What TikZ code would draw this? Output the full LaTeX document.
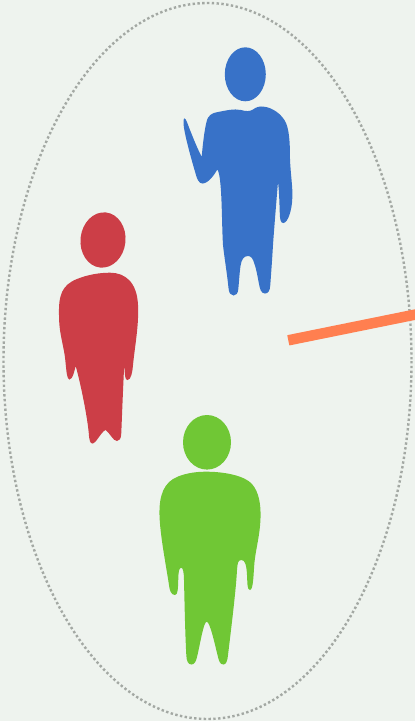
\documentclass[tikz,border=0pt]{standalone}
\usepackage{xcolor}
\usepackage{tikz}

\definecolor{paper}{HTML}{EEF3EE}
\definecolor{ringgray}{HTML}{A3A8A3}
\definecolor{personblue}{HTML}{3872C8}
\definecolor{personred}{HTML}{CC3E47}
\definecolor{persongreen}{HTML}{70C735}
\definecolor{barcoral}{HTML}{FF7F50}

\begin{document}
\begin{tikzpicture}[
        x=1pt,
        y=-1pt,
        ring/.style={
            draw=ringgray,
            line width=2.4pt,
            dash pattern=on 2.4pt off 2.4pt
        },
        bar/.style={
            draw=barcoral,
            line width=10.5pt
        },
        blueperson/.style={
            fill=personblue
        },
        redperson/.style={
            fill=personred
        },
        greenperson/.style={
            fill=persongreen
        }
    ]

    \useasboundingbox (0,0) rectangle (415,721);
    \fill[paper] (0,0) rectangle (415,721);

    \draw[ring] (207.5,361) ellipse [x radius=204, y radius=358];

    % blue person
    \fill[blueperson] (245.3,74.3) ellipse [x radius=20.5, y radius=27];
    \fill[blueperson] (201.7,156.7)
        .. controls (203,142) and (204.5,130) .. (206.5,122)
        .. controls (208,115) and (212,113) .. (218,112)
        .. controls (226,110.5) and (234,108.5) .. (241,110)
        .. controls (246,111.5) and (250,111.5) .. (253,109.5)
        .. controls (256,107) and (260,106) .. (264,106.7)
        .. controls (272,107.5) and (282,114) .. (286,123)
        .. controls (290,132) and (290,150) .. (290,160)
        .. controls (291,178) and (293,190) .. (292.3,198)
        .. controls (292,210) and (288,222.5) .. (283.5,223)
        .. controls (280.5,223.3) and (280,219) .. (279.8,214)
        .. controls (279.5,205) and (279.2,192) .. (278,181.7)
        .. controls (276.5,200) and (274,230) .. (273,245)
        .. controls (272,262) and (271,275) .. (270.3,285)
        .. controls (270,291) and (268,293.5) .. (265,293.5)
        .. controls (261,293.5) and (260,289) .. (259,284)
        .. controls (257.5,276) and (256,268) .. (254.5,264)
        .. controls (253,258.5) and (251,256) .. (248,256)
        .. controls (244,256) and (241.5,259) .. (240.5,266)
        .. controls (239.5,273) and (239,282) .. (238.3,289)
        .. controls (238,293.5) and (236,295.5) .. (233.5,295.5)
        .. controls (230.5,295.5) and (229,293) .. (228.5,288)
        .. controls (227,273) and (224,255) .. (223,245)
        .. controls (222,230) and (222,200) .. (220.5,185)
        .. controls (220,178) and (219,172) .. (217.3,169.3)
        .. controls (214.5,175) and (208,183.5) .. (202.5,183.5)
        .. controls (199,183.5) and (197,179) .. (196,175)
        .. controls (191,158) and (186,140) .. (184,128)
        .. controls (183,122) and (183.5,118.3) .. (184.5,118.3)
        .. controls (186,118.3) and (188,125) .. (190,130)
        .. controls (194,140) and (198,150) .. (201.7,156.7)
        -- cycle;

    % red person
    \fill[redperson, rotate around={-6:(103,240)}] (103,240) ellipse [x radius=22.5, y radius=27.7];
    \fill[redperson] (124.3,363.3)
        .. controls (123.2,385) and (122,415) .. (121.3,433)
        .. controls (121,439) and (119.5,441) .. (117,441)
        .. controls (113,441) and (110,433) .. (105.5,430)
        .. controls (101,432) and (96,443.5) .. (92.5,443.5)
        .. controls (90,443.5) and (89.5,440) .. (89,436)
        .. controls (88,420) and (81,385) .. (75.7,366)
        .. controls (74.5,370) and (73,379.5) .. (69.5,379.5)
        .. controls (67,379.5) and (66.5,372) .. (65.5,362)
        .. controls (64,345) and (59,335) .. (59,315)
        .. controls (58.5,295) and (62,285) .. (77,279)
        .. controls (88,274.5) and (100,272.7) .. (110,272.7)
        .. controls (125,272.7) and (137,282) .. (138,305)
        .. controls (139,325) and (135,345) .. (133,365)
        .. controls (132.5,372) and (131,380) .. (127.5,380)
        .. controls (125,380) and (124.8,376) .. (124.3,363.3)
        -- cycle;

    % green person
    \fill[greenperson] (207,442.3) ellipse [x radius=24, y radius=27.3];
    \fill[greenperson] (205,471.7)
        .. controls (225,471.5) and (245,476) .. (252,484)
        .. controls (259,492) and (261,505) .. (260.5,518)
        .. controls (260,535) and (256,548) .. (254.5,562)
        .. controls (253.5,572) and (253.5,590) .. (250,590)
        .. controls (247,590) and (247.5,583) .. (247,575)
        .. controls (246.5,565) and (245,560) .. (241.5,560)
        .. controls (238,560) and (237.5,563) .. (237,570)
        .. controls (236,590) and (231,630) .. (228,655)
        .. controls (227.5,661) and (226,664.5) .. (223.5,664.5)
        .. controls (220,664.5) and (219,661) .. (218,657)
        .. controls (215,645) and (210,621.7) .. (206.7,621.7)
        .. controls (203.5,621.7) and (200,645) .. (197,657)
        .. controls (196,662) and (194,664.5) .. (191.5,664.5)
        .. controls (188,664.5) and (186.5,661) .. (186.3,655)
        .. controls (185,630) and (184.5,600) .. (184,580)
        .. controls (184,573) and (183,567.7) .. (181.3,567.7)
        .. controls (179,567.7) and (178.5,572) .. (178.3,578)
        .. controls (178,588) and (178,595) .. (175,595)
        .. controls (171,595) and (169.5,590) .. (169,585)
        .. controls (166,565) and (160,535) .. (159.5,515)
        .. controls (159,495) and (164,482) .. (178,476.5)
        .. controls (187,473) and (196,471.8) .. (205,471.7)
        -- cycle;

    % orange bar
    \coordinate (barstart) at (288.3,340.3);
    \coordinate (barend) at (418,314);
    \draw[bar] (barstart) -- (barend);

\end{tikzpicture}
\end{document}
